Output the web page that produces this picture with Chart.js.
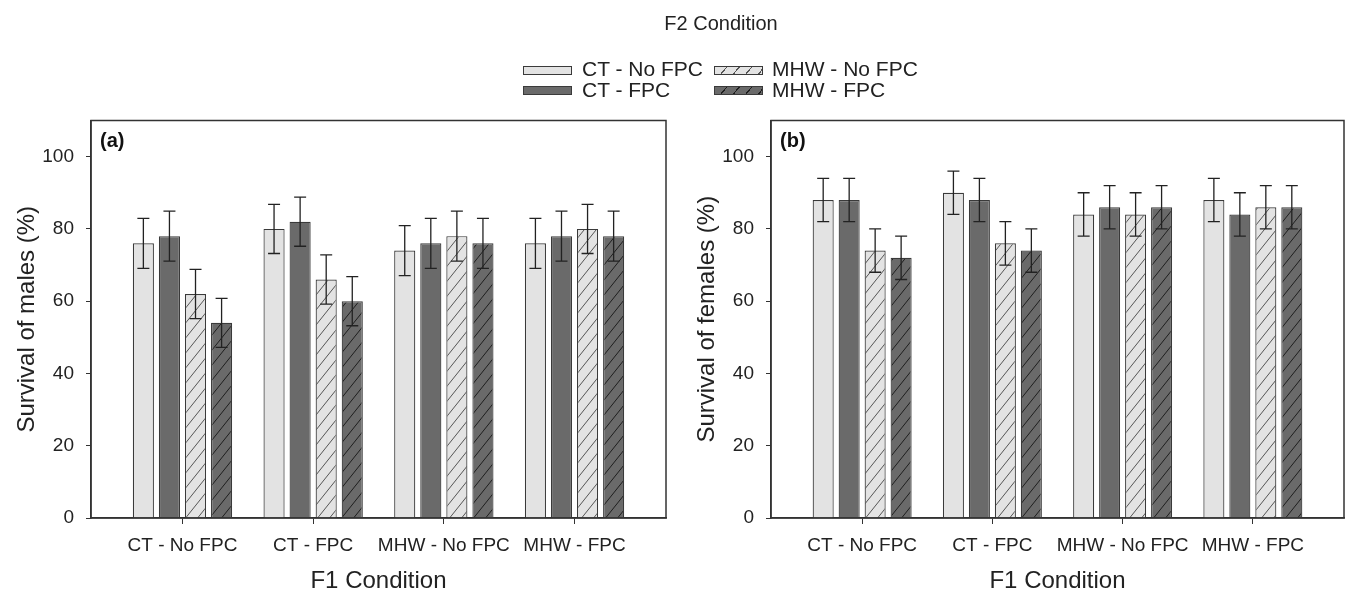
<!DOCTYPE html>
<html><head><meta charset="utf-8">
<script src="https://cdn.jsdelivr.net/npm/chart.js@4"></script>
<style>
html,body{margin:0;padding:0;background:#fff;}
#wrap{position:relative;width:1351px;height:596px;overflow:hidden;font-family:"Liberation Sans",Arial,sans-serif;color:#222;}
#ca{position:absolute;left:0;top:0;}
#cb{position:absolute;left:680px;top:0;}
.t{position:absolute;white-space:nowrap;line-height:1;}
.sw{position:absolute;box-sizing:border-box;width:49px;height:9px;border:1px solid #3a3a3a;}
</style></head><body>
<div id="wrap">
<canvas id="ca" width="680" height="596"></canvas>
<canvas id="cb" width="671" height="596"></canvas>
<div id="hdr"></div>
</div>
<script>
// ---- data ----
const categories = ['CT - No FPC', 'CT - FPC', 'MHW - No FPC', 'MHW - FPC'];
const seriesNames = ['CT - No FPC', 'CT - FPC', 'MHW - No FPC', 'MHW - FPC'];
const yTicks = [0, 20, 40, 60, 80, 100];
const legendTitle = 'F2 Condition';
const xTitle = 'F1 Condition';
const yTitleMales = 'Survival of males (%)';
const yTitleFemales = 'Survival of females (%)';

const malesCTNoFPC   = [76, 80, 74, 76];
const malesCTFPC     = [78, 82, 76, 78];
const malesMHWNoFPC  = [62, 66, 78, 80];
const malesMHWFPC    = [54, 60, 76, 78];
const malesErrCTNoFPC  = [6.9, 6.8, 6.9, 6.9];
const malesErrCTFPC    = [6.9, 6.8, 6.9, 6.9];
const malesErrMHWNoFPC = [6.8, 6.8, 6.9, 6.8];
const malesErrMHWFPC   = [6.8, 6.8, 6.9, 6.9];

const femalesCTNoFPC  = [88, 90, 84, 88];
const femalesCTFPC    = [88, 88, 86, 84];
const femalesMHWNoFPC = [74, 76, 84, 86];
const femalesMHWFPC   = [72, 74, 86, 86];
const femalesErrCTNoFPC  = [6, 6, 6, 6];
const femalesErrCTFPC    = [6, 6, 6, 6];
const femalesErrMHWNoFPC = [6, 6, 6, 6];
const femalesErrMHWFPC   = [6, 6, 6, 6];

// ---- styles ----
const FONT = '"Liberation Sans", Arial, sans-serif';
const LIGHT = '#e3e3e3', DARK = '#6a6a6a';
function hatch(bg, fg) {
  const c = document.createElement('canvas'); c.width = 12; c.height = 15;
  const g = c.getContext('2d');
  g.fillStyle = bg; g.fillRect(0, 0, 12, 15);
  g.strokeStyle = fg; g.lineWidth = 1;
  g.beginPath();
  for (const dx of [-12, 0, 12]) { g.moveTo(dx, 15); g.lineTo(dx + 12, 0); }
  g.stroke();
  return g.createPattern(c, 'repeat');
}
const fills = [LIGHT, DARK, hatch(LIGHT, '#555'), hatch(DARK, '#1e1e1e')];

// ---- header (legend) ----
(function () {
  const h = document.getElementById('hdr');
  const add = (cls, txt, css) => { const d = document.createElement('div'); d.className = cls; if (txt) d.textContent = txt; Object.assign(d.style, css); h.appendChild(d); };
  add('t', legendTitle, { left: '621px', width: '200px', textAlign: 'center', top: '13px', fontSize: '20px' });
  const swBg = [LIGHT, DARK,
    'repeating-linear-gradient(130deg,' + LIGHT + ' 0 8.4px,#555 8.4px 9.6px)',
    'repeating-linear-gradient(130deg,' + DARK + ' 0 8.4px,#1e1e1e 8.4px 9.6px)'];
  const pos = [[523, 582, 66, 58], [523, 582, 86, 79], [714, 772, 66, 58], [714, 772, 86, 79]];
  seriesNames.forEach((n, i) => {
    const [sx, tx, sy, ty] = pos[i];
    add('sw', '', { left: sx + 'px', top: sy + 'px', background: swBg[i] });
    add('t', n, { left: tx + 'px', top: ty + 'px', fontSize: '21px' });
  });
})();

// ---- plugin: error bars, frame, panel letter ----
const panelPlugin = {
  id: 'panel',
  afterDatasetsDraw(chart, args, opts) {
    const { ctx, chartArea: a, scales: { y } } = chart;
    ctx.save();
    ctx.strokeStyle = '#222'; ctx.lineWidth = 1.3;
    chart.data.datasets.forEach((ds, di) => {
      const meta = chart.getDatasetMeta(di);
      meta.data.forEach((el, i) => {
        const v = ds.data[i].y, e = ds.errs[i];
        const yt = y.getPixelForValue(v + e), yb = y.getPixelForValue(v - e);
        ctx.beginPath();
        ctx.moveTo(el.x, yt); ctx.lineTo(el.x, yb);
        ctx.moveTo(el.x - 6, yt); ctx.lineTo(el.x + 6, yt);
        ctx.moveTo(el.x - 6, yb); ctx.lineTo(el.x + 6, yb);
        ctx.stroke();
      });
    });
    ctx.strokeStyle = '#333'; ctx.lineWidth = 1.5;
    ctx.strokeRect(a.left, a.top, a.right - a.left, a.bottom - a.top);
    ctx.font = 'bold 20px ' + FONT; ctx.fillStyle = '#111'; ctx.textBaseline = 'middle'; ctx.textAlign = 'left';
    ctx.fillText(opts.letter, a.left + 9, a.top + 21);
    ctx.restore();
  }
};

function makeChart(id, vals, errs, yTitle, letter, rightPad) {
  const datasets = seriesNames.map((n, s) => ({
    label: n,
    data: vals[s].map((v, i) => ({ x: i, y: v })),
    errs: errs[s],
    backgroundColor: fills[s],
    borderColor: '#3a3a3a',
    borderWidth: 1.2,
    categoryPercentage: 0.798,
    barPercentage: 0.81
  }));
  return new Chart(document.getElementById(id), {
    type: 'bar',
    data: { datasets },
    options: {
      responsive: false, animation: false,
      layout: { padding: { left: 0, right: rightPad, top: 120.5, bottom: 0 } },
      plugins: { legend: { display: false }, tooltip: { enabled: false }, panel: { letter } },
      scales: {
        x: {
          type: 'linear', min: -0.7, max: 3.7, offset: false,
          afterBuildTicks: s => { s.ticks = categories.map((c, i) => ({ value: i })); },
          afterFit: s => { s.height = 78; },
          ticks: { callback: v => categories[v] ?? '', font: { family: FONT, size: 19 }, color: '#222', padding: 10, maxRotation: 0, autoSkip: false },
          grid: { display: true, offset: false, drawOnChartArea: false, drawTicks: true, tickLength: 6, color: '#333' },
          border: { display: true, color: '#333', width: 1.5 },
          title: { display: true, text: xTitle, font: { family: FONT, size: 24 }, color: '#222', padding: { top: 0, bottom: 0 } }
        },
        y: {
          min: 0, max: 110,
          afterBuildTicks: s => { s.ticks = yTicks.map(v => ({ value: v })); },
          afterFit: s => { s.width = 91; },
          ticks: { font: { family: FONT, size: 19 }, color: '#222', padding: 12 },
          grid: { display: true, drawOnChartArea: false, drawTicks: true, tickLength: 5, color: '#333' },
          border: { display: true, color: '#333', width: 1.5 },
          title: { display: true, text: yTitle, font: { family: FONT, size: 24 }, color: '#222', padding: { top: 13, bottom: 0 } }
        }
      }
    },
    plugins: [panelPlugin]
  });
}

makeChart('ca',
  [malesCTNoFPC, malesCTFPC, malesMHWNoFPC, malesMHWFPC],
  [malesErrCTNoFPC, malesErrCTFPC, malesErrMHWNoFPC, malesErrMHWFPC],
  yTitleMales, '(a)', 14);
makeChart('cb',
  [femalesCTNoFPC, femalesCTFPC, femalesMHWNoFPC, femalesMHWFPC],
  [femalesErrCTNoFPC, femalesErrCTFPC, femalesErrMHWNoFPC, femalesErrMHWFPC],
  yTitleFemales, '(b)', 7);
</script>
</body></html>
